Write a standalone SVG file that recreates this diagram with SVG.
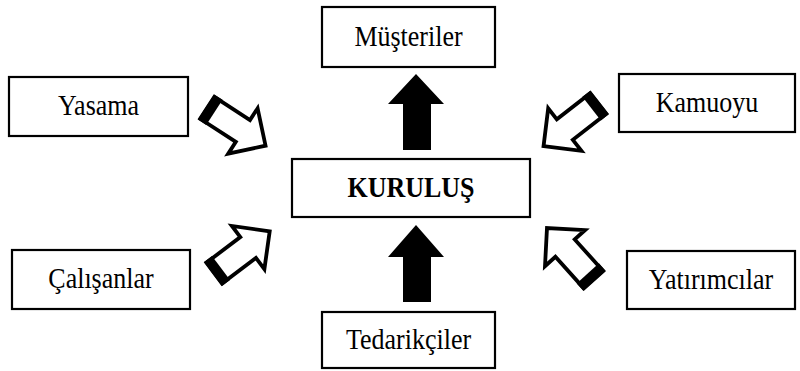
<svg xmlns="http://www.w3.org/2000/svg" xmlns:xlink="http://www.w3.org/1999/xlink" width="800" height="371" viewBox="0 0 800 371">
<style>
.box{fill:#fff;stroke:#000;stroke-width:2.2}
.lbl{font-family:"Liberation Serif","Times New Roman",serif;font-size:26px;fill:#000;text-anchor:middle}
.bold{font-weight:bold}
.solid{fill:#000;stroke:none}
</style>
<defs>
<g id="hollow">
<polygon points="1.5,-13 44,-13 44,-27 71,0 44,27 44,13 1.5,13" fill="#fff" stroke="#000" stroke-width="3.8" stroke-linejoin="miter"/>
<rect x="0" y="-15" width="10" height="30" fill="#000"/>
</g>
</defs>
<rect width="800" height="371" fill="#fff"/>
<g id="musteriler"><rect class="box" x="322" y="7" width="173" height="60"/><text class="lbl" transform="translate(408.5,46) scale(1,1.15)">Müşteriler</text></g>
<g id="yasama"><rect class="box" x="9" y="77" width="179" height="59"/><text class="lbl" transform="translate(98.5,115) scale(1,1.15)">Yasama</text></g>
<g id="kamuoyu"><rect class="box" x="619" y="74" width="176" height="58"/><text class="lbl" transform="translate(707,112) scale(1,1.15)">Kamuoyu</text></g>
<g id="kurulus"><rect class="box" x="292" y="159" width="238" height="58"/><text class="lbl bold" transform="translate(411,197) scale(1,1.15)">KURULUŞ</text></g>
<g id="calisanlar"><rect class="box" x="12" y="250" width="178" height="59"/><text class="lbl" transform="translate(101,288) scale(1,1.15)">Çalışanlar</text></g>
<g id="yatirimcilar"><rect class="box" x="627" y="251" width="168" height="58"/><text class="lbl" transform="translate(711,289) scale(1,1.15)">Yatırımcılar</text></g>
<g id="tedarikciler"><rect class="box" x="322" y="312" width="173" height="56"/><text class="lbl" transform="translate(408.5,349) scale(1,1.15)">Tedarikçiler</text></g>
<g id="connectors">
<polygon class="solid" points="416,74 444,104 431,104 431,150 403,150 403,104 388,104"/>
<polygon class="solid" points="416,225 444,257 431,257 431,302 403,302 403,257 388,257"/>
<use xlink:href="#hollow" href="#hollow" transform="translate(206,107) rotate(33)"/>
<use xlink:href="#hollow" href="#hollow" transform="translate(599.5,102.5) rotate(142)"/>
<use xlink:href="#hollow" href="#hollow" transform="translate(213,274) rotate(-37)"/>
<use xlink:href="#hollow" href="#hollow" transform="translate(594.5,280.8) rotate(-132)"/>
</g>
</svg>
